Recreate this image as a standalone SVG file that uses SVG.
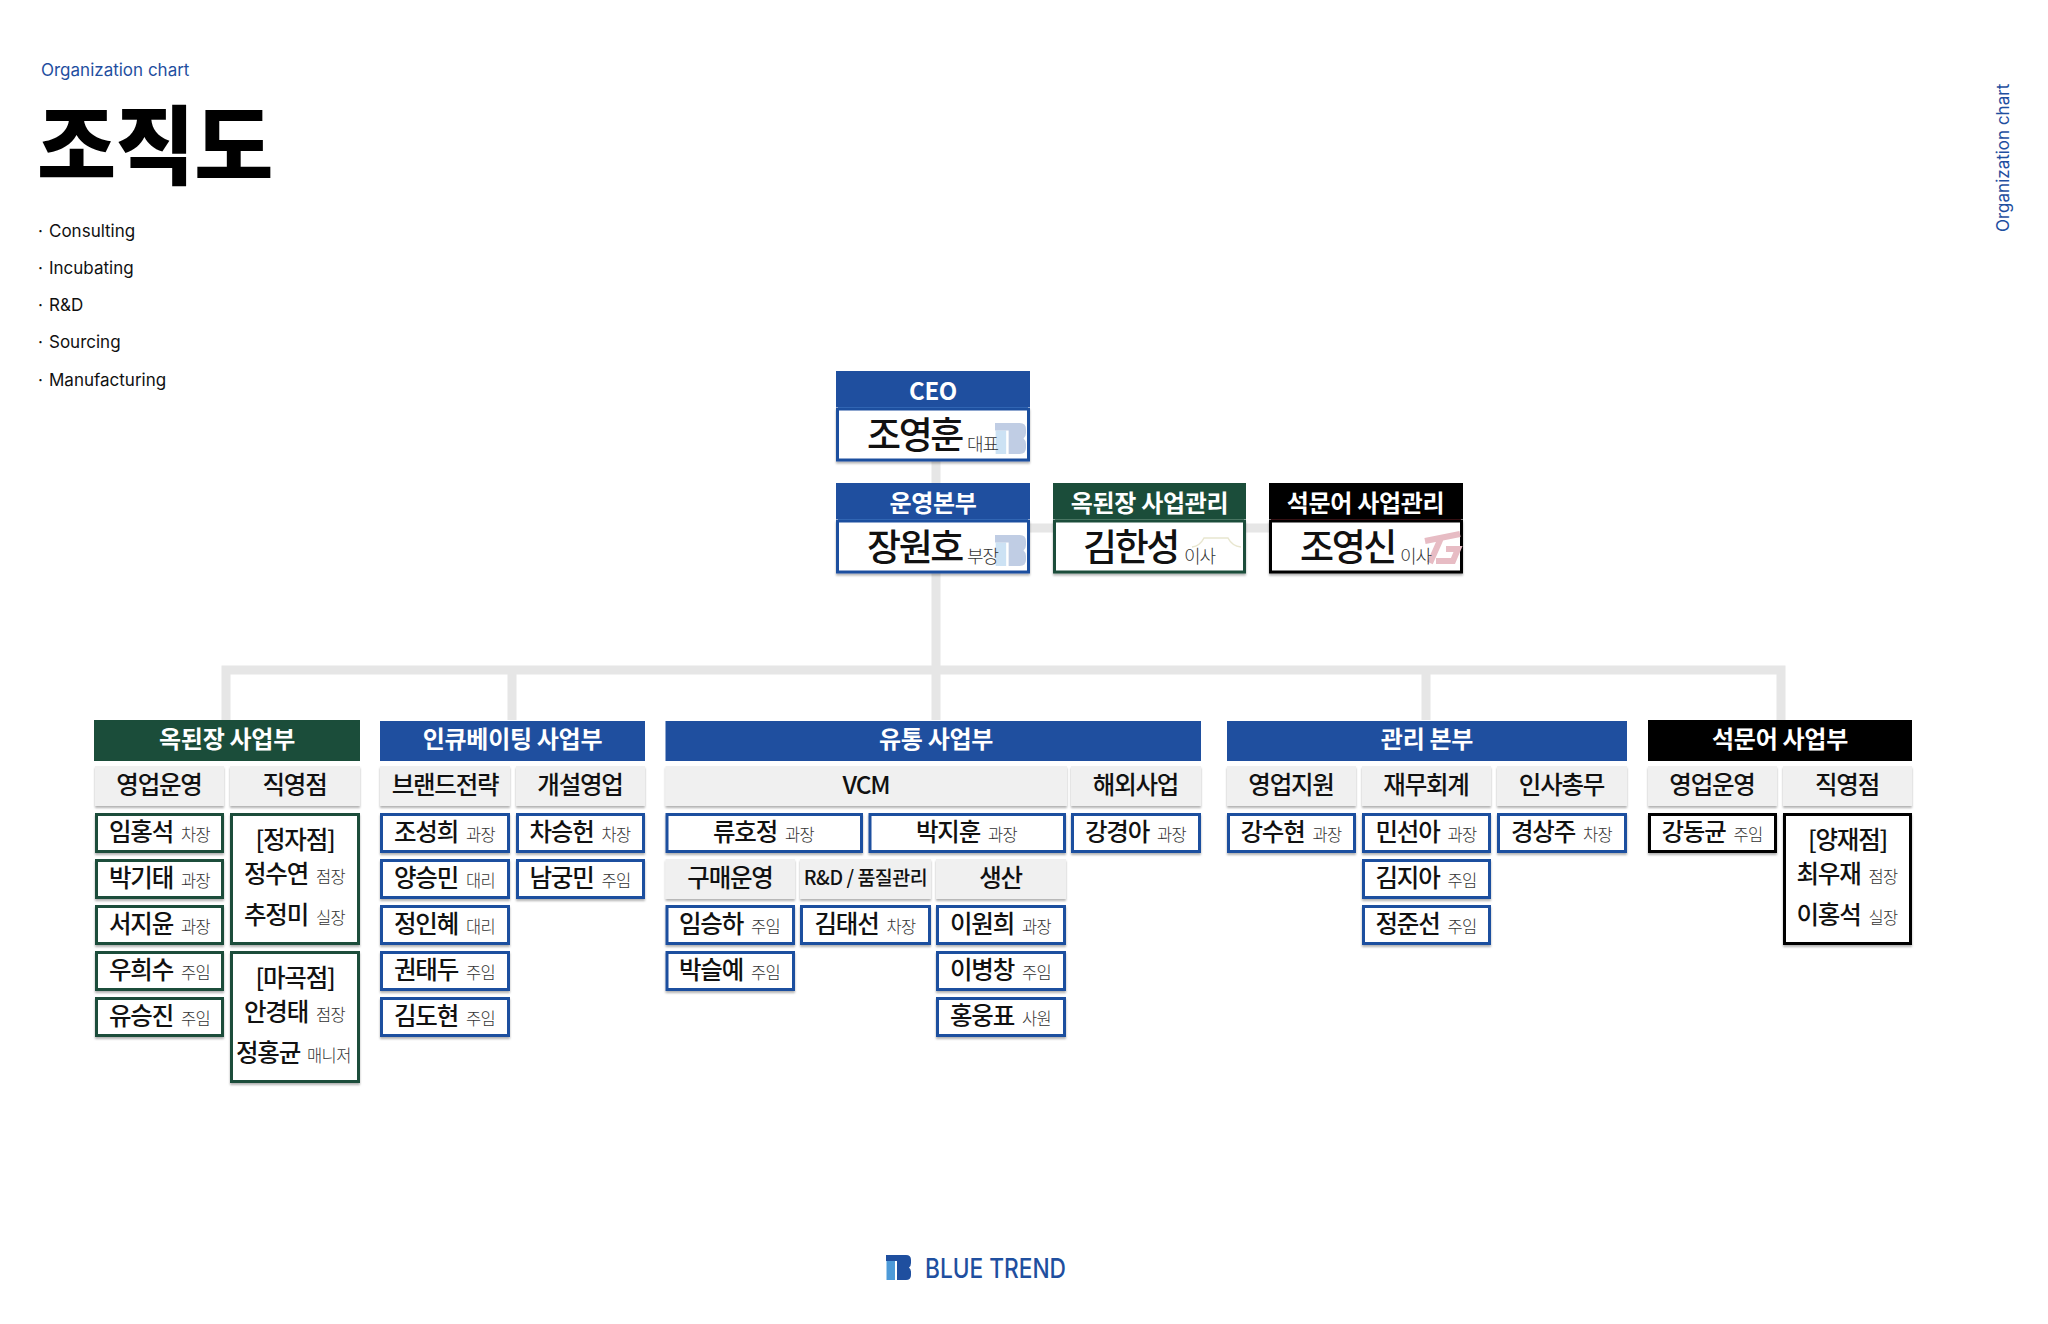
<svg xmlns="http://www.w3.org/2000/svg" width="2048" height="1324" viewBox="0 0 2048 1324">
<style>
text{font-family:"Noto Sans CJK KR","Noto Sans",sans-serif;fill:#111}
.lat{font-family:Inter,"Liberation Sans",sans-serif;font-size:17px}
.blu{fill:#1f4f9f}
.hd{font-size:24px;font-weight:700;fill:#fff;text-anchor:middle;letter-spacing:-.3px}
.sub{font-size:24.500px;font-weight:500;text-anchor:middle;letter-spacing:-1.200px}
.n{font-size:24.500px;font-weight:500;letter-spacing:-1.200px}
.t{font-size:16.500px;font-weight:300;fill:#333;letter-spacing:-.8px}
.bn{font-size:37px;font-weight:500;letter-spacing:-2.400px}
.bt{font-size:18px;font-weight:300;fill:#333;letter-spacing:-1px}
.sh{fill:#f0f0f0;filter:url(#s)}
.bx{fill:#fff;stroke-width:3;filter:url(#s)}
.b{stroke:#1f4f9f}.g{stroke:#1b4d3a}.k{stroke:#000}
.fb{fill:#1f4f9f}.fg{fill:#1b4d3a}.fk{fill:#000}
.con{stroke:#e6e6e6;stroke-width:9;fill:none}
</style>
<defs>
<filter id="s" x="-10%" y="-10%" width="120%" height="130%"><feDropShadow dx="0" dy="2" stdDeviation="1.200" flood-color="#000" flood-opacity=".3"/></filter>
<symbol id="logo" viewBox="0 0 25 25">
<path d="M.5 6H9V25H.5Z" fill="#4d9ad8"/>
<path d="M0 0H20Q25 0 25 5V8Q25 11 23 12.500Q25 14 25 17V20Q25 25 20 25H11V6H0Z" fill="#1f4f9f"/>
</symbol>
</defs>
<rect width="2048" height="1324" fill="#fff"/>

<g id="title">
<text class="lat blu" x="41" y="76">Organization chart</text>
<text x="37" y="178" font-size="86" font-weight="900" style="fill:#000;letter-spacing:-.5px">조직도</text>
<text class="lat" x="38" y="237">·</text><text class="lat" x="49" y="237">Consulting</text>
<text class="lat" x="38" y="274">·</text><text class="lat" x="49" y="274">Incubating</text>
<text class="lat" x="38" y="311">·</text><text class="lat" x="49" y="311">R&amp;D</text>
<text class="lat" x="38" y="348">·</text><text class="lat" x="49" y="348">Sourcing</text>
<text class="lat" x="38" y="386">·</text><text class="lat" x="49" y="386">Manufacturing</text>
</g>
<text class="lat blu" transform="translate(2009 232) rotate(-90)">Organization chart</text>

<g id="connectors">
<path class="con" d="M936 461V720M226 720V670H1781V720M512 670V720M1426 670V720"/>
<path class="con" d="M1030 528H1269"/>
</g>

<g id="ceo">
<rect class="fb" x="836" y="371" width="194" height="36"/><rect x="838" y="407" width="190" height="2" fill="#3f7cc8"/>
<rect class="bx b" x="837.500" y="409" width="191" height="51"/>
<use href="#logo" x="995" y="423" width="31" height="31" opacity=".28"/>
<text class="hd" x="933" y="400">CEO</text>
<text class="bn" x="867" y="449">조영훈</text><text class="bt" x="967" y="451">대표</text>
</g>
<g id="ops">
<rect class="fb" x="836" y="483" width="194" height="36"/><rect x="838" y="519" width="190" height="2" fill="#3f7cc8"/>
<rect class="bx b" x="837.500" y="521" width="191" height="51"/>
<use href="#logo" x="995" y="535" width="31" height="31" opacity=".28"/>
<text class="hd" x="933" y="512">운영본부</text>
<text class="bn" x="867" y="561">장원호</text><text class="bt" x="967" y="563">부장</text>
</g>
<g id="okdoenjang-mgmt">
<rect class="fg" x="1053" y="483" width="193" height="36"/><rect x="1055" y="519" width="189" height="2" fill="#7fa28f"/>
<rect class="bx g" x="1054.500" y="521" width="190" height="51"/>
<path d="M1192 547Q1200 546 1204 538H1228Q1232 546 1241 547" fill="none" stroke="#e8e6cf" stroke-width="1.500"/>
<text class="hd" x="1149.500" y="512">옥된장 사업관리</text>
<text class="bn" x="1083" y="561">김한성</text><text class="bt" x="1184" y="563">이사</text>
</g>
<g id="seokmuneo-mgmt">
<rect class="fk" x="1269" y="483" width="194" height="36"/><rect x="1271" y="519" width="190" height="2" fill="#6b1f24"/>
<rect class="bx k" x="1270.500" y="521" width="191" height="51"/>
<path d="M1425 541L1460 534M1441 538L1430 563M1446 549H1458L1453 561H1436" fill="none" stroke="#e7bcc4" stroke-width="6"/>
<text class="hd" x="1365.500" y="512">석문어 사업관리</text>
<text class="bn" x="1300" y="561">조영신</text><text class="bt" x="1400" y="563">이사</text>
</g>

<g id="dept-okdoenjang">
<rect class="fg" x="94" y="720" width="266" height="41"/><text class="hd" x="227" y="748">옥된장 사업부</text>
<g id="ok-sub1"><rect class="sh" x="95" y="766" width="129" height="40"/><text class="sub" x="159" y="794">영업운영</text></g>
<g id="ok-sub2"><rect class="sh" x="230" y="766" width="130" height="40"/><text class="sub" x="294.500" y="794">직영점</text></g>
<g id="ok-1"><rect class="bx g" x="96.500" y="814.500" width="126" height="37"/><text class="n" x="109" y="841">임홍석</text><text class="t" x="181" y="841">차장</text></g>
<g id="ok-2"><rect class="bx g" x="96.500" y="860.500" width="126" height="37"/><text class="n" x="109" y="887">박기태</text><text class="t" x="181" y="887">과장</text></g>
<g id="ok-3"><rect class="bx g" x="96.500" y="906.500" width="126" height="37"/><text class="n" x="109" y="933">서지윤</text><text class="t" x="181" y="933">과장</text></g>
<g id="ok-4"><rect class="bx g" x="96.500" y="952.500" width="126" height="37"/><text class="n" x="109" y="979">우희수</text><text class="t" x="181" y="979">주임</text></g>
<g id="ok-5"><rect class="bx g" x="96.500" y="998.500" width="126" height="37"/><text class="n" x="109" y="1025">유승진</text><text class="t" x="181" y="1025">주임</text></g>
<g id="ok-store1"><rect class="bx g" x="231.500" y="814.500" width="127" height="129"/>
<text class="sub" x="295" y="849">[정자점]</text>
<text class="n" x="244" y="883">정수연</text><text class="t" x="316" y="883">점장</text>
<text class="n" x="244" y="924">추정미</text><text class="t" x="316" y="924">실장</text></g>
<g id="ok-store2"><rect class="bx g" x="231.500" y="952.500" width="127" height="129"/>
<text class="sub" x="295" y="987">[마곡점]</text>
<text class="n" x="244" y="1021">안경태</text><text class="t" x="316" y="1021">점장</text>
<text class="n" x="236" y="1062">정홍균</text><text class="t" x="307" y="1062" style="letter-spacing:-.6px">매니저</text></g>
</g>

<g id="dept-incubating">
<rect class="fb" x="380" y="721" width="265" height="40"/><text class="hd" x="512.500" y="748">인큐베이팅 사업부</text>
<g id="in-sub1"><rect class="sh" x="380" y="766" width="130" height="40"/><text class="sub" x="445" y="794">브랜드전략</text></g>
<g id="in-sub2"><rect class="sh" x="516" y="766" width="129" height="40"/><text class="sub" x="580" y="794">개설영업</text></g>
<g id="in-1"><rect class="bx b" x="381.500" y="814.500" width="127" height="37"/><text class="n" x="394" y="841">조성희</text><text class="t" x="466" y="841">과장</text></g>
<g id="in-2"><rect class="bx b" x="381.500" y="860.500" width="127" height="37"/><text class="n" x="394" y="887">양승민</text><text class="t" x="466" y="887">대리</text></g>
<g id="in-3"><rect class="bx b" x="381.500" y="906.500" width="127" height="37"/><text class="n" x="394" y="933">정인혜</text><text class="t" x="466" y="933">대리</text></g>
<g id="in-4"><rect class="bx b" x="381.500" y="952.500" width="127" height="37"/><text class="n" x="394" y="979">권태두</text><text class="t" x="466" y="979">주임</text></g>
<g id="in-5"><rect class="bx b" x="381.500" y="998.500" width="127" height="37"/><text class="n" x="394" y="1025">김도현</text><text class="t" x="466" y="1025">주임</text></g>
<g id="in-6"><rect class="bx b" x="517.500" y="814.500" width="126" height="37"/><text class="n" x="529.500" y="841">차승헌</text><text class="t" x="601.500" y="841">차장</text></g>
<g id="in-7"><rect class="bx b" x="517.500" y="860.500" width="126" height="37"/><text class="n" x="529.500" y="887">남궁민</text><text class="t" x="601.500" y="887">주임</text></g>
</g>

<g id="dept-distribution">
<rect class="fb" x="665.500" y="721" width="535.500" height="40"/><text class="hd" x="936" y="748">유통 사업부</text>
<g id="di-sub1"><rect class="sh" x="665.500" y="766" width="401.500" height="40"/><text class="sub" x="866" y="794">VCM</text></g>
<g id="di-sub2"><rect class="sh" x="1071" y="766" width="130" height="40"/><text class="sub" x="1135.500" y="794">해외사업</text></g>
<g id="di-1"><rect class="bx b" x="667" y="814.500" width="194.500" height="37"/><text class="n" x="713" y="841">류호정</text><text class="t" x="785" y="841">과장</text></g>
<g id="di-2"><rect class="bx b" x="870" y="814.500" width="194.500" height="37"/><text class="n" x="916" y="841">박지훈</text><text class="t" x="988" y="841">과장</text></g>
<g id="di-3"><rect class="bx b" x="1072.500" y="814.500" width="127" height="37"/><text class="n" x="1085" y="841">강경아</text><text class="t" x="1157" y="841">과장</text></g>
<g id="di-sub3"><rect class="sh" x="665.500" y="859" width="129.500" height="40"/><text class="sub" x="730" y="887">구매운영</text></g>
<g id="di-sub4"><rect class="sh" x="800" y="859" width="131" height="40"/><text class="sub" x="865.500" y="885" style="font-size:19.500px;letter-spacing:-.5px">R&amp;D / 품질관리</text></g>
<g id="di-sub5"><rect class="sh" x="936" y="859" width="130" height="40"/><text class="sub" x="1000.500" y="887">생산</text></g>
<g id="di-4"><rect class="bx b" x="667" y="906.500" width="126.500" height="37"/><text class="n" x="679" y="933">임승하</text><text class="t" x="751" y="933">주임</text></g>
<g id="di-5"><rect class="bx b" x="667" y="952.500" width="126.500" height="37"/><text class="n" x="679" y="979">박슬예</text><text class="t" x="751" y="979">주임</text></g>
<g id="di-6"><rect class="bx b" x="801.500" y="906.500" width="128" height="37"/><text class="n" x="814.500" y="933">김태선</text><text class="t" x="886.500" y="933">차장</text></g>
<g id="di-7"><rect class="bx b" x="937.500" y="906.500" width="127" height="37"/><text class="n" x="950" y="933">이원희</text><text class="t" x="1022" y="933">과장</text></g>
<g id="di-8"><rect class="bx b" x="937.500" y="952.500" width="127" height="37"/><text class="n" x="950" y="979">이병창</text><text class="t" x="1022" y="979">주임</text></g>
<g id="di-9"><rect class="bx b" x="937.500" y="998.500" width="127" height="37"/><text class="n" x="950" y="1025">홍웅표</text><text class="t" x="1022" y="1025">사원</text></g>
</g>

<g id="dept-admin">
<rect class="fb" x="1227" y="721" width="400" height="40"/><text class="hd" x="1427" y="748">관리 본부</text>
<g id="ad-sub1"><rect class="sh" x="1227" y="766" width="129" height="40"/><text class="sub" x="1291" y="794">영업지원</text></g>
<g id="ad-sub2"><rect class="sh" x="1362" y="766" width="129" height="40"/><text class="sub" x="1426" y="794">재무회계</text></g>
<g id="ad-sub3"><rect class="sh" x="1497" y="766" width="130" height="40"/><text class="sub" x="1561.500" y="794">인사총무</text></g>
<g id="ad-1"><rect class="bx b" x="1228.500" y="814.500" width="126" height="37"/><text class="n" x="1240.500" y="841">강수현</text><text class="t" x="1312.500" y="841">과장</text></g>
<g id="ad-2"><rect class="bx b" x="1363.500" y="814.500" width="126" height="37"/><text class="n" x="1375.500" y="841">민선아</text><text class="t" x="1447.500" y="841">과장</text></g>
<g id="ad-3"><rect class="bx b" x="1363.500" y="860.500" width="126" height="37"/><text class="n" x="1375.500" y="887">김지아</text><text class="t" x="1447.500" y="887">주임</text></g>
<g id="ad-4"><rect class="bx b" x="1363.500" y="906.500" width="126" height="37"/><text class="n" x="1375.500" y="933">정준선</text><text class="t" x="1447.500" y="933">주임</text></g>
<g id="ad-5"><rect class="bx b" x="1498.500" y="814.500" width="127" height="37"/><text class="n" x="1511" y="841">경상주</text><text class="t" x="1583" y="841">차장</text></g>
</g>

<g id="dept-seokmuneo">
<rect class="fk" x="1648" y="720" width="264" height="41"/><text class="hd" x="1780" y="748">석문어 사업부</text>
<g id="se-sub1"><rect class="sh" x="1648" y="766" width="129" height="40"/><text class="sub" x="1712" y="794">영업운영</text></g>
<g id="se-sub2"><rect class="sh" x="1783" y="766" width="129" height="40"/><text class="sub" x="1847" y="794">직영점</text></g>
<g id="se-1"><rect class="bx k" x="1649.500" y="814.500" width="126" height="37"/><text class="n" x="1661.500" y="841">강동균</text><text class="t" x="1733.500" y="841">주임</text></g>
<g id="se-store"><rect class="bx k" x="1784.500" y="814.500" width="126" height="129"/>
<text class="sub" x="1847.500" y="849">[양재점]</text>
<text class="n" x="1796.500" y="883">최우재</text><text class="t" x="1868.500" y="883">점장</text>
<text class="n" x="1796.500" y="924">이홍석</text><text class="t" x="1868.500" y="924">실장</text></g>
</g>

<g id="brand">
<use href="#logo" x="886" y="1255" width="25" height="25"/>
<text x="925" y="1278" textLength="141" lengthAdjust="spacingAndGlyphs" style="font-family:Inter,'Liberation Sans',sans-serif;font-size:27px;font-weight:500;fill:#1f4f9f">BLUE TREND</text>
</g>
</svg>
